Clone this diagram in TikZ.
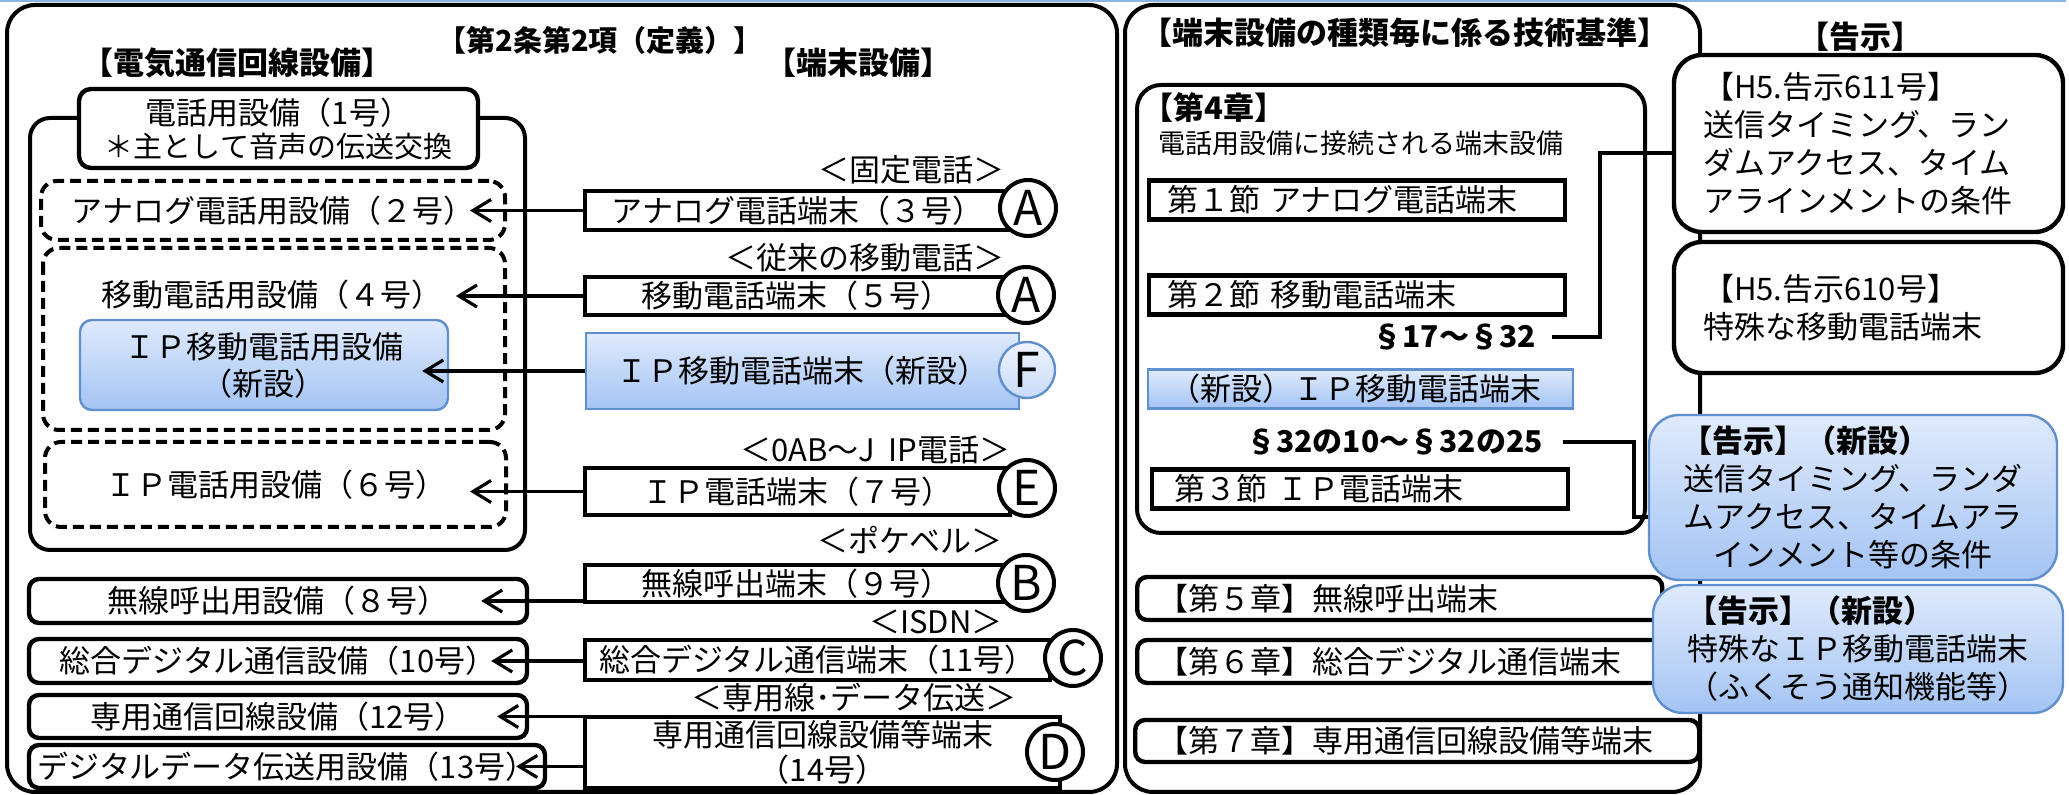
\documentclass[tikz,border=0pt]{standalone}
\usepackage{fontspec}
\setmainfont{Noto Sans CJK JP}
\usepackage{xcolor}
\definecolor{newtop}{RGB}{223,234,252}
\definecolor{newbot}{RGB}{164,196,243}
\definecolor{newline}{RGB}{96,143,205}
\definecolor{topline}{RGB}{141,179,226}
\usepackage{tikz}
\usetikzlibrary{positioning}
\usetikzlibrary{arrows.meta}
\usetikzlibrary{calc}

\begin{document}
\begin{tikzpicture}[x=0.5pt,y=-0.5pt,
	every node/.style={inner sep=0pt, font=\fontsize{15.5}{19}\selectfont},
	head/.style={font=\bfseries\fontsize{15.5}{19}\selectfont},
	panel/.style={draw, line width=2pt, rounded corners=14pt},
	dashbox/.style={draw, line width=2pt, rounded corners=8pt, dash pattern=on 5.5pt off 3pt},
	facbox/.style={draw, line width=2.2pt, rounded corners=5pt, minimum width=249pt, minimum height=22pt},
	termbox/.style={draw, line width=2.4pt, rectangle},
	newbox/.style={draw=newline, line width=1.2pt, top color=newtop, bottom color=newbot},
	badge/.style={circle, draw, line width=2pt, fill=white, minimum size=28pt, font=\fontsize{24}{24}\selectfont},
	secbox/.style={draw, line width=2.2pt, anchor=west, align=left, minimum height=19.5pt},
	noticebox/.style={draw, line width=2.2pt, rounded corners=14pt, fill=white},
	arr/.style={line width=1.6pt, -{Straight Barb[length=9pt, width=11pt]}},
	link/.style={line width=2pt}]
	\useasboundingbox (0,0) rectangle (2069,795);
	\draw[topline, line width=1.5pt] (0,1) -- (2066,1);

	% left panel: definitions
	\draw[panel] (7,5) rectangle (1117,792);
	\node[font=\bfseries\fontsize{14.5}{17}\selectfont] (defn) at (600,40) {【第2条第2項（定義）】};
	\node[head] (hfac) at (238,63) {【電気通信回線設備】};
	\node[head] (hterm) at (858,63) {【端末設備】};

	\draw[line width=2pt, rounded corners=10pt] (30,118) rectangle (525,550);
	\node[draw, line width=2.2pt, rounded corners=6pt, fill=white, minimum width=199.5pt, minimum height=39.5pt,
	      align=center, font=\fontsize{15.5}{16.5}\selectfont] (tel) at (278.5,128.5)
	      {電話用設備（1号）\\{\fontsize{14.5}{16.5}\selectfont ＊主として音声の伝送交換}};

	\node[dashbox, minimum width=232pt, minimum height=29.5pt] (D2) at (273,210.5) {アナログ電話用設備（２号）};
	\draw[dashbox] (43,248) rectangle (505,430);
	\node (F4) at (272,295) {移動電話用設備（４号）};
	\node[newbox, rounded corners=6pt, minimum width=184pt, minimum height=45pt, align=center,
	      font=\fontsize{15.5}{18.5}\selectfont] (F4b) at (264,365) {ＩＰ移動電話用設備\\（新設）};
	\node[dashbox, minimum width=230.5pt, minimum height=42.5pt] (D6) at (275.5,484.5) {ＩＰ電話用設備（６号）};

	\node[facbox] (B8) at (278,601) {無線呼出用設備（８号）};
	\node[facbox] (B10) at (278,661) {総合デジタル通信設備（10号）};
	\node[facbox, minimum height=21.5pt] (B12) at (278,716.5) {専用通信回線設備（12号）};
	\node[facbox, minimum width=258pt, minimum height=21.5pt] (B13) at (287,766.5) {デジタルデータ伝送用設備（13号）};

	\node[termbox, minimum width=212.5pt, minimum height=19.5pt] (T3) at (797.5,210.5) {アナログ電話端末（３号）};
	\node[termbox, minimum width=211.5pt, minimum height=19pt] (T5) at (796.5,296) {移動電話端末（５号）};
	\node[newbox, minimum width=216.5pt, minimum height=38pt] (T4b) at (802.5,371) {ＩＰ移動電話端末（新設）};
	\node[termbox, minimum width=212.5pt, minimum height=23.5pt] (T7) at (797.5,491.5) {ＩＰ電話端末（７号）};
	\node[termbox, minimum width=211.5pt, minimum height=18.5pt] (T9) at (796.5,583.5) {無線呼出端末（９号）};
	\node[termbox, minimum width=232.5pt, minimum height=20pt] (T11) at (817.5,660) {総合デジタル通信端末（11号）};
	\node[termbox, minimum width=237.5pt, minimum height=35.5pt, align=center,
	      font=\fontsize{15.5}{17.5}\selectfont] (T14) at (822.5,752.5) {専用通信回線設備等端末\\（14号）};

	\node[anchor=east] (L3) at (1005,170) {＜固定電話＞};
	\node[anchor=east] (L5) at (1005,258) {＜従来の移動電話＞};
	\node[anchor=east] (L7) at (1011,450) {＜0AB～J\ \ IP電話＞};
	\node[anchor=east] (L9) at (1003,540) {＜ポケベル＞};
	\node[anchor=east] (L11) at (1003,622) {＜ISDN＞};
	\node[anchor=east] (L14) at (1017,698) {＜専用線･データ伝送＞};

	\draw[arr] (T3.west) -- ($(T3.west -| D2.east)+(-37,0)$);
	\draw[arr] (T5.west) -- ($(T5.west -| F4.east)+(13,0)$);
	\draw[arr] (T4b.west) -- ($(T4b.west -| F4b.east)+(-27,0)$);
	\draw[arr] (T7.west) -- ($(T7.west -| D6.east)+(-38,0)$);
	\draw[arr] (T9.west |- B8.east) -- ($(B8.east)+(-48,0)$);
	\draw[arr] (T11.west |- B10.east) -- ($(B10.east)+(-38,0)$);
	\draw[arr] (T14.west |- B12.east) -- ($(B12.east)+(-32,0)$);
	\draw[arr] (T14.west |- B13.east) -- ($(B13.east)+(-31,0)$);

	\node[badge] (A1) at (1028,208) {A};
	\node[badge] (A2) at (1026,295) {A};
	\node[badge, draw=newline, line width=1.2pt, top color=newtop!50!white, bottom color=newtop!60!newbot] (F1) at (1027,370) {F};
	\node[badge] (E1) at (1027,488) {E};
	\node[badge] (B1) at (1026,583) {B};
	\node[badge] (C1) at (1073,658) {C};
	\node[badge] (D1) at (1055,752) {D};

	% middle panel: technical standards
	\draw[panel] (1125,5) rectangle (1700,792);
	\node[head] (std) at (1405,33) {【端末設備の種類毎に係る技術基準】};
	\draw[line width=2pt, rounded corners=12pt] (1137,85) rectangle (1645,533);
	\node[head, anchor=west] (ch4) at (1142,108) {【第4章】};
	\node[anchor=west, font=\fontsize{13.5}{16}\selectfont] (ch4s) at (1158,143) {電話用設備に接続される端末設備};
	\node[secbox, text width=190pt, inner xsep=9pt] (S1) at (1147,200) {第１節 アナログ電話端末};
	\node[secbox, text width=190pt, inner xsep=9pt] (S2) at (1147,295) {第２節 移動電話端末};
	\node[anchor=east, font=\bfseries\fontsize{15}{18}\selectfont] (P17) at (1536,337) {§17～§32};
	\node[secbox, newbox, text width=191.5pt, inner xsep=10.5pt] (SIP) at (1147,389) {（新設）ＩＰ移動電話端末};
	\node[anchor=east, font=\bfseries\fontsize{15}{18}\selectfont] (P32) at (1543,442) {§32の10～§32の25};
	\node[secbox, text width=186pt, inner xsep=11pt] (S3) at (1150,489) {第３節 ＩＰ電話端末};

	\node[secbox, rounded corners=5pt, text width=242.5pt, inner xsep=10pt, minimum height=21.5pt] (C5) at (1135,598.5) {【第５章】無線呼出端末};
	\node[secbox, rounded corners=5pt, text width=245pt, inner xsep=10pt, minimum height=21.5pt] (C6) at (1135,661.5) {【第６章】総合デジタル通信端末};
	\node[secbox, rounded corners=5pt, text width=260pt, inner xsep=11pt, minimum height=21pt] (C7) at (1133,741) {【第７章】専用通信回線設備等端末};

	% right column: notices
	\node[head] (kok) at (1860,37) {【告示】};
	\node[noticebox, minimum width=194.5pt, minimum height=88.5pt, text width=165.5pt, inner xsep=14.5pt, align=left] (K611) at (1868.5,143.5)
	      {【H5.告示611号】\\送信タイミング、ラン\\ダムアクセス、タイム\\アラインメントの条件};
	\node[noticebox, minimum width=194.5pt, minimum height=65.5pt, text width=165.5pt, inner xsep=14.5pt, align=left] (K610) at (1868.5,307.5)
	      {【H5.告示610号】\\特殊な移動電話端末};
	\node[noticebox, newbox, rounded corners=15pt, minimum width=204pt, minimum height=82.5pt, text width=172pt, align=center] (KN1) at (1853,497.5)
	      {\makebox[172pt][l]{\bfseries 【告示】（新設）}\\送信タイミング、ランダ\\ムアクセス、タイムアラ\\インメント等の条件};
	\node[noticebox, newbox, rounded corners=15pt, minimum width=205pt, minimum height=64pt, text width=172pt, align=center] (KN2) at (1858,649)
	      {\makebox[172pt][l]{\bfseries 【告示】（新設）}\\特殊なＩＰ移動電話端末\\（ふくそう通知機能等）};

	\coordinate (J1) at (1600,0);
	\coordinate (J2) at (1634,0);
	\draw[link] ($(P17.east)+(16,0)$) -- (P17.east -| J1) |- ($(K611.west)+(0,10)$);
	\draw[link] ($(P32.east)+(20,0)$) -- (P32.east -| J2) |- ($(KN1.west)+(0,20)$);
\end{tikzpicture}
\end{document}
